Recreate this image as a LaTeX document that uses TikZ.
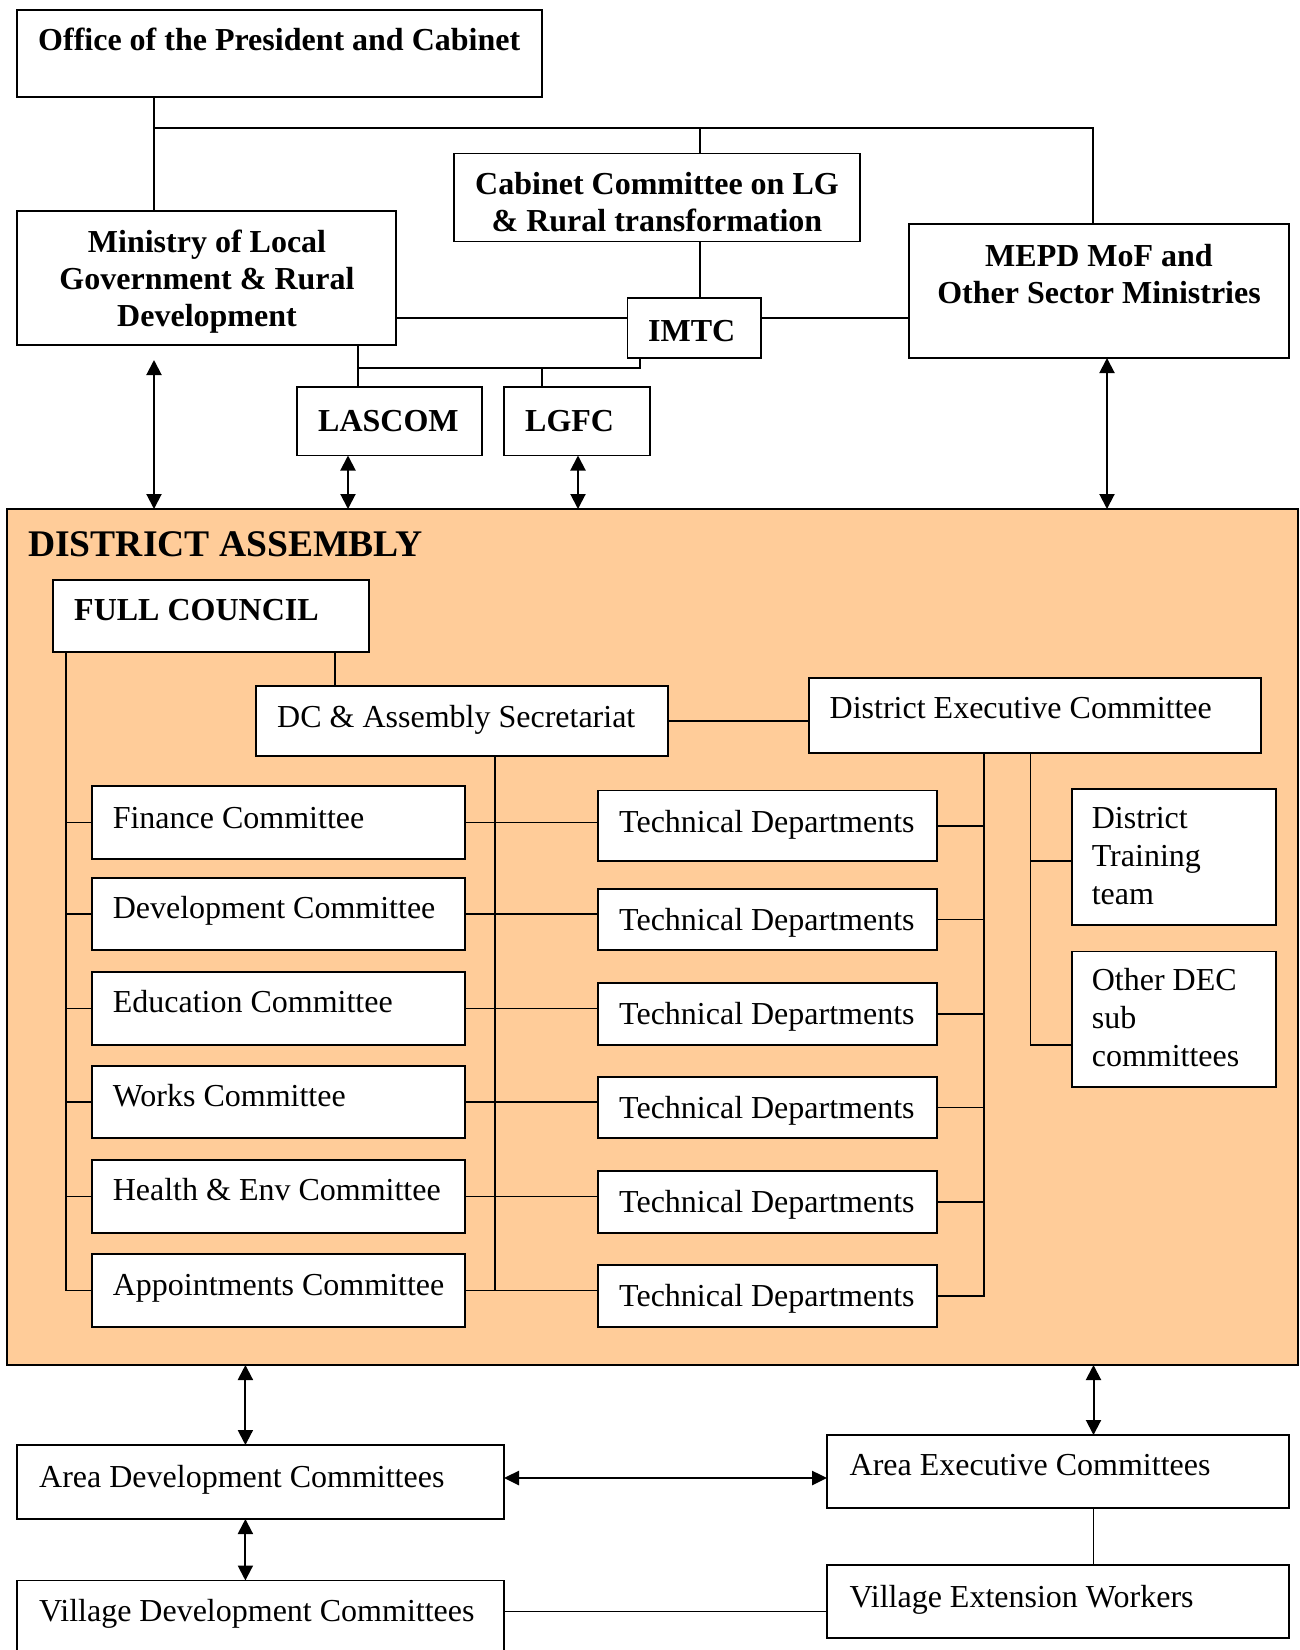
\documentclass[tikz,border=0pt]{standalone}
\usepackage{fontspec}
\setmainfont{Liberation Serif}
\usetikzlibrary{arrows.meta,calc}
\definecolor{peach}{RGB}{255,204,153}
\newcommand\mybox[6][]{\node[boxst,anchor=north west,minimum width={#5pt-#3pt},minimum height={#6pt-#4pt},#1] (#2) at (#3,#4) {};}
\newcommand\fs{\vrule height 23pt depth 0pt width 0pt\relax}
\begin{document}
\begin{tikzpicture}[x=1pt,y=-1pt,
  boxst/.style={draw,line width=1.8pt,fill=white,inner sep=0pt,outer sep=0pt},
  ln/.style={line width=1.6pt},
  arr/.style={line width=2pt,{Triangle[length=15pt,width=15pt]}-{Triangle[length=15pt,width=15pt]}},
  arrthick/.style={line width=2.6pt,{Triangle[length=15pt,width=14pt]}-{Triangle[length=15pt,width=14pt]}},
  bt/.style={font=\fontsize{32}{37}\selectfont\bfseries,inner sep=0pt,anchor=north west},
  rt/.style={font=\fontsize{32}{38}\selectfont,inner sep=0pt,anchor=north west,align=left},
]
\useasboundingbox (0,0) rectangle (1300,1650);

% ---------- top part ----------
\mybox{office}{17}{10}{542}{97}
\node[bt] (toffice) at (38,27) {\fs Office of the President and Cabinet};

\mybox{cab}{454}{153.5}{860}{241.5}
\node[bt,anchor=north,align=center] (tcab) at (657,171) {\fs Cabinet Committee on LG\\ \& Rural transformation};

\mybox{ministry}{17}{211}{396}{345}
\node[bt,anchor=north,align=center] (tmin) at (207,229) {\fs Ministry of Local\\Government \& Rural\\Development};

\mybox{mepd}{909}{224}{1289}{358}
\node[bt,anchor=north,align=center] (tmepd) at (1099,243) {\fs MEPD MoF and\\Other Sector Ministries};

\mybox{imtc}{627.5}{298}{761}{358}
\node[bt] (timtc) at (648,318.5) {\fs IMTC};

\mybox{lascom}{297}{387}{482}{455.5}
\node[bt] (tlascom) at (318,408) {\fs LASCOM};

\mybox{lgfc}{504}{387}{650}{455.5}
\node[bt] (tlgfc) at (525,408) {\fs LGFC};

% ---------- district assembly ----------
\node[draw,line width=2.5pt,fill=peach,anchor=north west,minimum width=1291pt,minimum height=856pt,inner sep=0pt,outer sep=0pt] (da) at (7,509) {};
\node[bt,font=\fontsize{37.6}{42}\selectfont\bfseries] (tda) at (28,529) {\vrule height 27pt width 0pt DISTRICT ASSEMBLY};

\mybox{fc}{53}{580}{369}{652}
\node[bt] (tfc) at (74,597.5) {\fs FULL COUNCIL};

\mybox{dc}{256}{686}{668}{756}
\node[rt] (tdc) at (277,704) {\fs DC \& Assembly Secretariat};

\mybox{dec}{809}{678}{1261}{753}
\node[rt] (tdec) at (829.5,695) {\fs District Executive Committee};

\mybox{fin}{92}{786}{465}{859}
\node[rt] (tfin) at (112.6,805) {\fs Finance Committee};
\mybox{dev}{92}{878}{465}{950}
\node[rt] (tdev) at (112.6,895.5) {\fs Development Committee};
\mybox{edu}{92}{972}{465}{1045}
\node[rt] (tedu) at (112.6,989) {\fs Education Committee};
\mybox{works}{92}{1066}{465}{1138}
\node[rt] (tworks) at (112.6,1083) {\fs Works Committee};
\mybox{health}{92}{1160}{465}{1233}
\node[rt] (thealth) at (112.6,1177.5) {\fs Health \& Env Committee};
\mybox{appt}{92}{1254}{465}{1327}
\node[rt] (tappt) at (112.6,1272) {\fs Appointments Committee};

\mybox{tdA}{598}{790.5}{937}{861}
\node[rt] (ttdA) at (619,809) {\fs Technical Departments};
\mybox{tdB}{598}{889}{937}{950}
\node[rt] (ttdB) at (619,907) {\fs Technical Departments};
\mybox{tdC}{598}{983}{937}{1045}
\node[rt] (ttdC) at (619,1001.7) {\fs Technical Departments};
\mybox{tdD}{598}{1077}{937}{1138}
\node[rt] (ttdD) at (619,1095.4) {\fs Technical Departments};
\mybox{tdE}{598}{1171}{937}{1233}
\node[rt] (ttdE) at (619,1189) {\fs Technical Departments};
\mybox{tdF}{598}{1265}{937}{1327}
\node[rt] (ttdF) at (619,1283) {\fs Technical Departments};

\mybox{dtt}{1072}{789}{1276}{925}
\node[rt] (tdtt) at (1091.6,805) {\fs District\\Training\\team};
\mybox{other}{1072}{951.5}{1276}{1087}
\node[rt] (tother) at (1091.6,967) {\fs Other DEC\\sub\\committees};

% ---------- bottom ----------
\mybox{adc}{16.6}{1445}{504}{1519}
\node[rt] (tadc) at (39,1464) {\fs Area Development Committees};
\mybox{aec}{827}{1435}{1289}{1508}
\node[rt] (taec) at (849.5,1452) {\fs Area Executive Committees};
\mybox{vdc}{16.6}{1580.5}{504}{1656}
\node[rt] (tvdc) at (39,1598.6) {\fs Village Development Committees};
\mybox{vew}{827}{1565}{1289}{1638}
\node[rt] (tvew) at (849.5,1584) {\fs Village Extension Workers};

% ---------- top connectors ----------
\coordinate (jL) at (154,128);
\coordinate (jM) at (700,128);
\coordinate (jR) at (1093,128);
\draw[ln] (office.south -| jL) -- (ministry.north -| jL);
\draw[ln] (jL) -- (jR) -- (mepd.north -| jR);
\draw[ln] (jM) -- (cab.north -| jM);
\draw[ln] (cab.south -| jM) -- (imtc.north -| jM);
\coordinate (yI) at (0,318);
\draw[ln] (ministry.east |- yI) -- (imtc.west |- yI);
\draw[ln] (imtc.east |- yI) -- (mepd.west |- yI);
\coordinate (b1) at (358,368);
\coordinate (b2) at (640,368);
\coordinate (b3) at (542,368);
\draw[ln] (ministry.south -| b1) -- (lascom.north -| b1);
\draw[ln] (b1) -- (b2) -- (imtc.south -| b2);
\draw[ln] (b3) -- (lgfc.north -| b3);

\coordinate (aM) at (154,0);
\coordinate (aL) at (348,0);
\coordinate (aG) at (578,0);
\coordinate (aR) at (1107,0);
\draw[arr,shorten <=15pt] (ministry.south -| aM) -- (da.north -| aM);
\draw[arr] (lascom.south -| aL) -- (da.north -| aL);
\draw[arr] (lgfc.south -| aG) -- (da.north -| aG);
\draw[arr] (mepd.south -| aR) -- (da.north -| aR);

% ---------- inside district assembly ----------
\coordinate (xFL) at (66,0);
\coordinate (xFD) at (335,0);
\coordinate (xM) at (495,0);
\coordinate (xR) at (984,0);
\coordinate (xRR) at (1030.5,0);
\draw[ln] (fc.south -| xFL) |- (appt.west);
\foreach \c in {fin,dev,edu,works,health}{\draw[ln] (xFL |- \c.west) -- (\c.west);}
\draw[ln] (fc.south -| xFD) -- (dc.north -| xFD);
\draw[ln] (dc.east) -- (dc.east -| dec.west);
\draw[ln] (dc.south -| xM) -- (xM |- appt.east);
\foreach \c/\t in {fin/tdA,dev/tdB,edu/tdC,works/tdD,health/tdE,appt/tdF}{\draw[ln] (\c.east) -- (\c.east -| \t.west);}
\draw[ln] (dec.south -| xR) |- (tdF.east);
\foreach \t in {tdA,tdB,tdC,tdD,tdE}{\draw[ln] (\t.east) -- (\t.east -| xR);}
\coordinate (dttc) at ($(dtt.west)+(0,4)$);
\coordinate (othc) at ($(other.west)+(0,25.5)$);
\draw[ln] (dec.south -| xRR) |- (othc);
\draw[ln] (dttc) -- (dttc -| xRR);

% ---------- bottom connectors ----------
\coordinate (aB1) at (245.4,0);
\coordinate (aB2) at (1093.5,0);
\draw[arr] (da.south -| aB1) -- (adc.north -| aB1);
\draw[arr] (da.south -| aB2) -- (aec.north -| aB2);
\draw[arr] (adc.south -| aB1) -- (vdc.north -| aB1);
\coordinate (yA) at (0,1478);
\draw[arrthick] (adc.east |- yA) -- (aec.west |- yA);
\draw[ln] (aec.south -| aB2) -- (vew.north -| aB2);
\coordinate (yV) at (0,1611.5);
\draw[ln] (vdc.east |- yV) -- (vew.west |- yV);
\end{tikzpicture}
\end{document}
